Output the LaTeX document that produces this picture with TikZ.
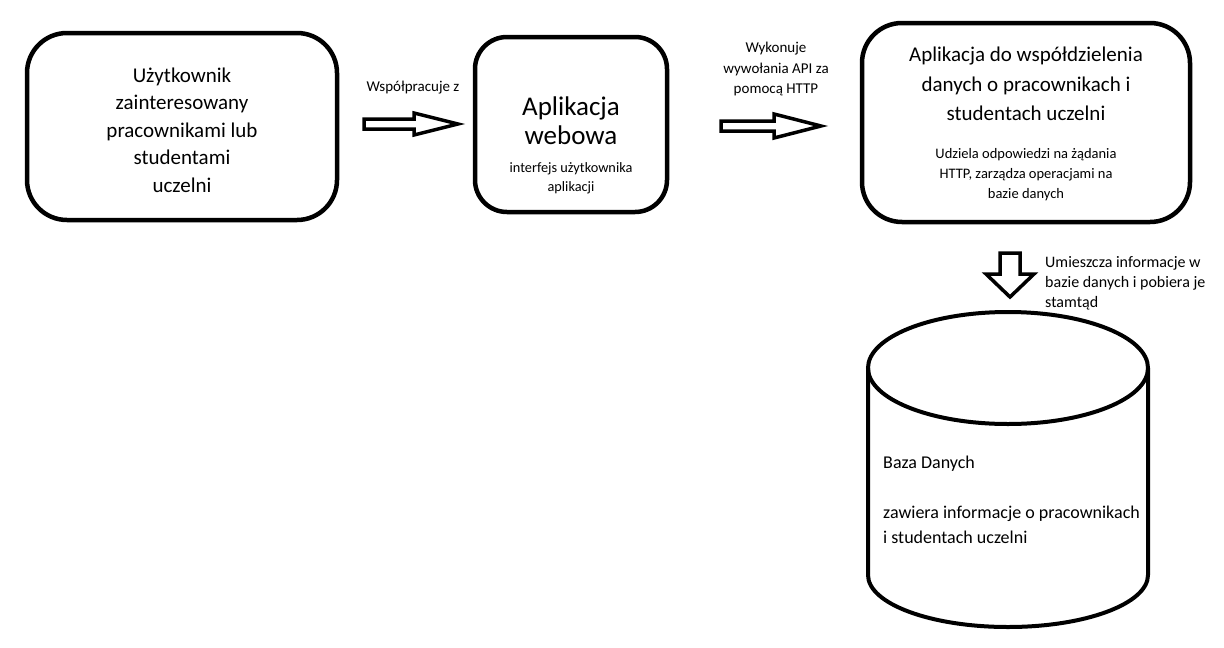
\documentclass[tikz,border=0pt]{standalone}
\usepackage{fontspec}
\setmainfont{Carlito}
\begin{document}
\begin{tikzpicture}[x=1pt,y=-1pt,
  box/.style={draw, line width=4.5pt, inner sep=0pt},
  blk/.style={draw, line width=3.5pt, line join=miter, fill=white},
  lbl/.style={align=center, inner sep=0pt, font=\fontsize{15}{20.5}\selectfont},
  small/.style={align=center, inner sep=0pt}]
\useasboundingbox[fill=white] (0,0) rectangle (1224,648);

% boxes
\node[box, rounded corners=40pt, minimum width=310pt, minimum height=187pt] (user) at (182,126.5) {};
\node[box, rounded corners=32pt, minimum width=192pt, minimum height=175pt] (web) at (571,124.5) {};
\node[box, rounded corners=40pt, minimum width=328pt, minimum height=199pt] (api) at (1026,122.5) {};

% box texts
\node[align=center, inner sep=0pt, font=\fontsize{21}{27.5}\selectfont] (usertxt) at (182,130) {Użytkownik\\zainteresowany\\pracownikami lub\\studentami\\uczelni};
\node[align=center, inner sep=0pt, font=\fontsize{27}{29}\selectfont] (webtitle) at (571,121) {Aplikacja\\webowa};
\node[small, font=\fontsize{14.3}{19}\selectfont] (websub) at (571,178) {interfejs użytkownika\\aplikacji};
\node[align=center, inner sep=0pt, font=\fontsize{21}{29.5}\selectfont] (apititle) at (1026,84) {Aplikacja do współdzielenia\\danych o pracownikach i\\studentach uczelni};
\node[small, font=\fontsize{14.5}{20}\selectfont] (apisub) at (1026,175) {Udziela odpowiedzi na żądania\\HTTP, zarządza operacjami na\\bazie danych};

% block arrows
\draw[blk] (364,119) -- (414,119) -- (414,113) -- (458,124) -- (414,135) -- (414,129) -- (364,129) -- cycle;
\draw[blk] (721,121) -- (774,121) -- (774,114) -- (821,126) -- (774,138) -- (774,131) -- (721,131) -- cycle;
\draw[blk] (1000,253) -- (1020,253) -- (1020,274) -- (1034,274) -- (1010,297) -- (986,274) -- (1000,274) -- cycle;

% arrow labels
\node[lbl] (l1) at (413,88) {Współpracuje z};
\node[lbl] (l2) at (776,69) {Wykonuje\\wywołania API za\\pomocą HTTP};
\node[lbl, font=\fontsize{16}{20}\selectfont, align=left, anchor=west] (l3) at (1045,283) {Umieszcza informacje w\\bazie danych i pobiera je\\stamtąd};

% database cylinder
\draw[line width=4pt] (1008,368) ellipse[x radius=140pt, y radius=56pt];
\draw[line width=4pt] (868,368) -- (868,575) arc[start angle=180, end angle=360, x radius=140pt, y radius=52pt] -- (1148,368);
\node[align=left, anchor=west, inner sep=0pt, font=\fontsize{18}{25}\selectfont] (dbtxt) at (883,500) {Baza Danych\\[25pt]zawiera informacje o pracownikach\\i studentach uczelni};
\end{tikzpicture}
\end{document}
